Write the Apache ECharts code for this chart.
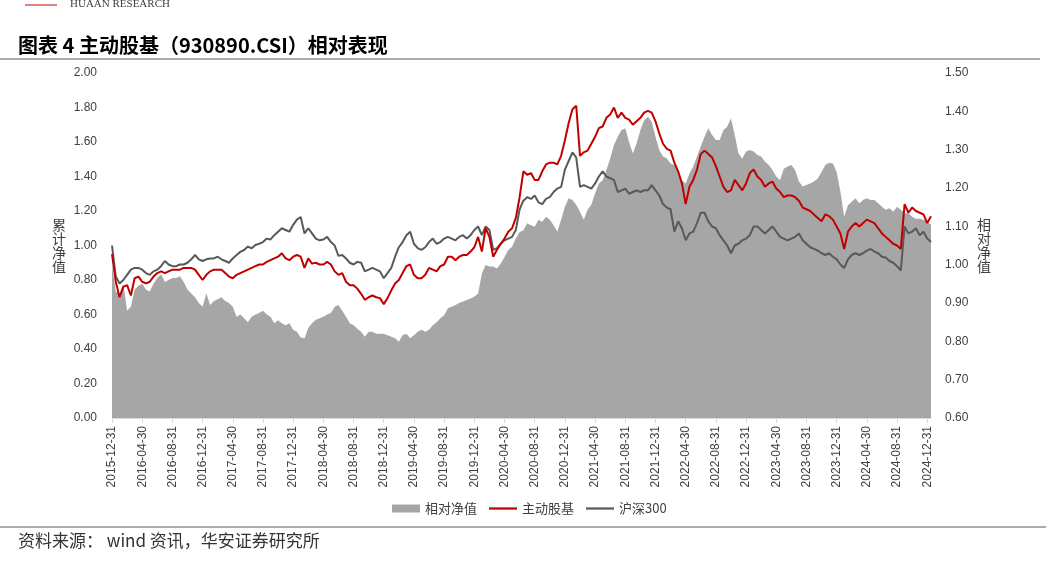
<!DOCTYPE html>
<html>
<head>
<meta charset="utf-8">
<script src="https://cdn.jsdelivr.net/npm/echarts@6/dist/echarts.min.js"></script>
<style>
html,body{margin:0;padding:0;background:#fff;}
#chart{width:1046px;height:566px;}
</style>
</head>
<body>
<div id="chart"></div>
<script>
// Semi-monthly dates: 2015-12-31, then 15th and month-end of each month, to 2025-01-15
function buildDates() {
  const out = ['2015-12-31'];
  for (let y = 2016; y <= 2024; y++) {
    for (let mo = 1; mo <= 12; mo++) {
      const last = new Date(y, mo, 0).getDate();
      const mm = String(mo).padStart(2, '0');
      out.push(y + '-' + mm + '-15', y + '-' + mm + '-' + last);
    }
  }
  out.push('2025-01-15');
  return out;
}
const categories = buildDates();

const leftTicks = { min: 0, max: 2, interval: 0.2 };
const rightTicks = { min: 0.6, max: 1.5, interval: 0.1 };

// 主动股基 (930890.CSI) cumulative NAV
const fundNav = [
  0.95,0.79,0.70,0.76,0.77,0.71,0.81,0.82,0.79,0.78,
  0.79,0.82,0.84,0.85,0.84,0.85,0.86,0.86,0.86,0.87,
  0.87,0.87,0.86,0.83,0.80,0.83,0.85,0.86,0.86,0.86,
  0.84,0.82,0.81,0.83,0.84,0.85,0.86,0.87,0.88,0.89,
  0.89,0.905,0.915,0.925,0.935,0.955,0.925,0.915,0.935,0.945,
  0.935,0.87,0.925,0.895,
  0.90,0.89,0.89,0.905,0.89,0.85,0.83,0.84,0.79,0.77,
  0.77,0.75,0.72,0.685,0.70,0.71,0.70,0.695,0.66,0.695,
  0.74,0.78,0.80,0.84,0.88,0.89,0.83,0.81,0.81,0.83,
  0.87,0.86,0.85,0.88,0.89,0.935,0.935,0.915,0.935,0.945,
  0.945,0.965,0.99,1.05,0.965,1.10,1.05,0.935,0.975,1.01,
  1.04,1.08,1.10,1.16,1.28,
  1.43,1.41,1.42,1.38,1.38,1.43,1.47,1.48,1.48,1.47,
  1.52,1.61,1.71,1.79,1.81,1.52,1.54,1.55,1.59,1.63,
  1.68,1.69,1.74,1.76,1.80,1.74,1.77,1.74,1.73,1.70,
  1.72,1.74,1.77,1.78,1.77,1.72,1.65,1.59,1.56,1.55,
  1.48,1.43,1.36,1.24,1.34,1.38,1.44,1.53,1.55,1.53,
  1.51,1.46,1.40,1.34,1.31,
  1.32,1.38,1.35,1.32,1.36,1.42,1.44,1.40,1.38,1.34,
  1.36,1.37,1.33,1.31,1.28,1.29,1.29,1.28,1.26,1.22,
  1.21,1.20,1.18,1.16,1.14,1.18,1.17,1.15,1.11,1.07,
  0.98,1.08,1.11,1.13,1.11,1.13,1.15,1.14,1.13,1.10,
  1.07,1.05,1.03,1.01,1.00,0.98,1.24,1.19,1.22,1.20,
  1.19,1.18,1.13,1.17
];

// 沪深300 cumulative NAV
const hs300Nav = [
  1.00,0.82,0.78,0.80,0.83,0.86,0.87,0.87,0.86,0.84,
  0.83,0.85,0.86,0.88,0.91,0.89,0.88,0.88,0.89,0.89,
  0.90,0.92,0.945,0.92,0.91,0.92,0.925,0.925,0.935,0.92,
  0.91,0.90,0.925,0.945,0.963,0.974,0.994,0.984,1.003,1.01,
  1.02,1.04,1.035,1.06,1.08,1.10,1.09,1.08,1.12,1.15,
  1.165,1.07,1.10,1.07,
  1.04,1.03,1.035,1.05,1.02,1.00,0.94,0.945,0.925,0.90,
  0.89,0.905,0.90,0.85,0.86,0.87,0.86,0.85,0.81,0.84,
  0.87,0.935,0.99,1.02,1.06,1.08,1.01,0.985,0.975,0.99,
  1.02,1.04,1.01,1.02,1.04,1.05,1.04,1.03,1.05,1.06,
  1.04,1.06,1.09,1.11,1.06,1.11,1.09,0.975,0.985,1.01,
  1.03,1.04,1.05,1.09,1.21,
  1.26,1.28,1.27,1.29,1.25,1.24,1.27,1.28,1.31,1.33,
  1.34,1.44,1.49,1.54,1.51,1.34,1.35,1.34,1.33,1.36,
  1.40,1.43,1.40,1.39,1.38,1.31,1.32,1.33,1.30,1.31,
  1.32,1.31,1.32,1.32,1.35,1.32,1.29,1.24,1.22,1.21,
  1.08,1.14,1.10,1.03,1.07,1.08,1.13,1.19,1.19,1.14,
  1.11,1.10,1.06,1.03,1.00,
  0.955,1.00,1.01,1.03,1.04,1.06,1.11,1.11,1.09,1.07,
  1.09,1.11,1.08,1.05,1.04,1.03,1.04,1.05,1.07,1.03,
  1.01,0.99,0.98,0.97,0.955,0.945,0.955,0.935,0.92,0.89,
  0.87,0.92,0.945,0.955,0.945,0.955,0.97,0.98,0.965,0.955,
  0.935,0.93,0.91,0.90,0.88,0.855,1.11,1.07,1.08,1.10,
  1.06,1.08,1.04,1.02
];

// 相对净值 (right axis)
const relativeNav = [
  1.00,0.93,0.925,0.95,0.88,0.89,0.935,0.945,0.95,0.935,
  0.93,0.95,0.965,0.975,0.955,0.96,0.965,0.965,0.97,0.955,
  0.935,0.925,0.915,0.90,0.89,0.925,0.895,0.905,0.91,0.915,
  0.905,0.90,0.89,0.864,0.87,0.86,0.85,0.864,0.87,0.874,
  0.88,0.87,0.864,0.847,0.855,0.847,0.842,0.847,0.83,0.825,
  0.81,0.808,0.835,0.847,
  0.856,0.86,0.864,0.87,0.874,0.89,0.895,0.88,0.864,0.847,
  0.842,0.833,0.825,0.812,0.825,0.825,0.82,0.82,0.82,0.816,
  0.812,0.808,0.799,0.816,0.82,0.808,0.816,0.825,0.83,0.825,
  0.83,0.842,0.85,0.86,0.868,0.886,0.89,0.895,0.90,0.904,
  0.908,0.912,0.916,0.925,0.977,0.999,0.995,0.995,0.99,1.003,
  1.02,1.038,1.047,1.069,1.085,
  1.09,1.108,1.103,1.099,1.117,1.112,1.125,1.117,1.103,1.086,
  1.117,1.151,1.173,1.169,1.156,1.138,1.117,1.143,1.156,1.186,
  1.212,1.22,1.247,1.277,1.312,1.334,1.351,1.356,1.32,1.29,
  1.316,1.351,1.377,1.386,1.373,1.334,1.299,1.282,1.277,1.264,
  1.26,1.242,1.22,1.212,1.238,1.256,1.282,1.308,1.334,1.356,
  1.338,1.325,1.325,1.351,1.36,
  1.382,1.338,1.29,1.277,1.295,1.299,1.295,1.286,1.282,1.269,
  1.26,1.247,1.23,1.22,1.25,1.256,1.26,1.247,1.217,1.204,
  1.208,1.212,1.217,1.225,1.242,1.26,1.266,1.264,1.242,1.19,
  1.125,1.155,1.164,1.173,1.16,1.169,1.173,1.169,1.169,1.16,
  1.151,1.143,1.147,1.138,1.151,1.143,1.134,1.134,1.125,1.12,
  1.12,1.117,1.112,1.104
];

const seriesNames = ['相对净值', '主动股基', '沪深300'];
const colors = { area: '#A6A6A6', fund: '#C00000', hs300: '#595959' };

const LATIN = '"Liberation Sans", Arial, sans-serif';
const CJK = '"Noto Sans CJK SC", "Liberation Sans", sans-serif';
const LINE_ICON = 'path://M0,0L25,0L25,2L0,2Z';

const chart = echarts.init(document.getElementById('chart'), null, { renderer: 'canvas' });

const labelEvery8 = function (idx) { return idx % 8 === 0; };

chart.setOption({
  animation: false,
  backgroundColor: '#ffffff',
  grid: { left: 112, right: 115, top: 73, bottom: 148, containLabel: false },
  legend: {
    left: 387, top: 497,
    itemWidth: 28, itemHeight: 8, itemGap: 12,
    textStyle: { fontSize: 13, color: '#404040', fontFamily: CJK },
    data: [
      { name: seriesNames[0], icon: 'rect' },
      { name: seriesNames[1], icon: LINE_ICON },
      { name: seriesNames[2], icon: LINE_ICON }
    ]
  },
  xAxis: {
    type: 'category',
    data: categories,
    boundaryGap: false,
    axisLine: { show: true, lineStyle: { color: '#D9D9D9', width: 1 } },
    axisTick: { show: true, interval: labelEvery8, length: 5, lineStyle: { color: '#D9D9D9' } },
    axisLabel: {
      interval: labelEvery8, rotate: 90, margin: 8,
      fontSize: 12, color: '#404040', fontFamily: LATIN
    },
    splitLine: { show: false }
  },
  yAxis: [
    {
      type: 'value', min: leftTicks.min, max: leftTicks.max, interval: leftTicks.interval,
      axisLine: { show: false }, axisTick: { show: false }, splitLine: { show: false },
      axisLabel: { formatter: function (v) { return v.toFixed(2); }, fontSize: 12, color: '#404040', fontFamily: LATIN, margin: 15 }
    },
    {
      type: 'value', min: rightTicks.min, max: rightTicks.max, interval: rightTicks.interval,
      axisLine: { show: false }, axisTick: { show: false }, splitLine: { show: false },
      axisLabel: { formatter: function (v) { return v.toFixed(2); }, fontSize: 12, color: '#404040', fontFamily: LATIN, margin: 14 }
    }
  ],
  series: [
    {
      name: seriesNames[0], type: 'line', yAxisIndex: 1, data: relativeNav,
      symbol: 'none', color: colors.area,
      lineStyle: { width: 0, color: colors.area },
      areaStyle: { color: colors.area, opacity: 1, origin: 'start' },
      z: 1
    },
    {
      name: seriesNames[1], type: 'line', yAxisIndex: 0, data: fundNav,
      symbol: 'none', color: colors.fund,
      lineStyle: { width: 2, color: colors.fund }, z: 3
    },
    {
      name: seriesNames[2], type: 'line', yAxisIndex: 0, data: hs300Nav,
      symbol: 'none', color: colors.hs300,
      lineStyle: { width: 2, color: colors.hs300 }, z: 2
    }
  ],
  graphic: [
    { type: 'line', shape: { x1: 25, y1: 5, x2: 57, y2: 5 }, style: { stroke: '#C00000', lineWidth: 1 } },
    { type: 'text', x: 70, y: 4, style: { text: 'HUAAN RESEARCH', font: '11px "Liberation Serif", serif', fill: '#404040', textVerticalAlign: 'middle' } },
    { type: 'text', x: 18, y: 45, style: { text: '图表 4 主动股基（930890.CSI）相对表现', font: 'bold 20px "Noto Sans CJK SC", sans-serif', fill: '#000000', textVerticalAlign: 'middle' } },
    { type: 'line', shape: { x1: 0, y1: 59, x2: 1040, y2: 59 }, style: { stroke: '#595959', lineWidth: 1 } },
    { type: 'text', x: 59, y: 246, style: { text: '累\n计\n净\n值', font: '14px "Noto Sans CJK SC", sans-serif', fill: '#404040', textAlign: 'center', textVerticalAlign: 'middle', lineHeight: 14 } },
    { type: 'text', x: 984, y: 246, style: { text: '相\n对\n净\n值', font: '14px "Noto Sans CJK SC", sans-serif', fill: '#404040', textAlign: 'center', textVerticalAlign: 'middle', lineHeight: 14 } },
    { type: 'line', shape: { x1: 0, y1: 527, x2: 1046, y2: 527 }, style: { stroke: '#595959', lineWidth: 1 } },
    { type: 'text', x: 18, y: 541, style: { text: '资料来源： wind 资讯，华安证券研究所', font: '17px "Noto Sans CJK SC", sans-serif', fill: '#333333', textVerticalAlign: 'middle' } }
  ]
});
</script>
</body>
</html>
